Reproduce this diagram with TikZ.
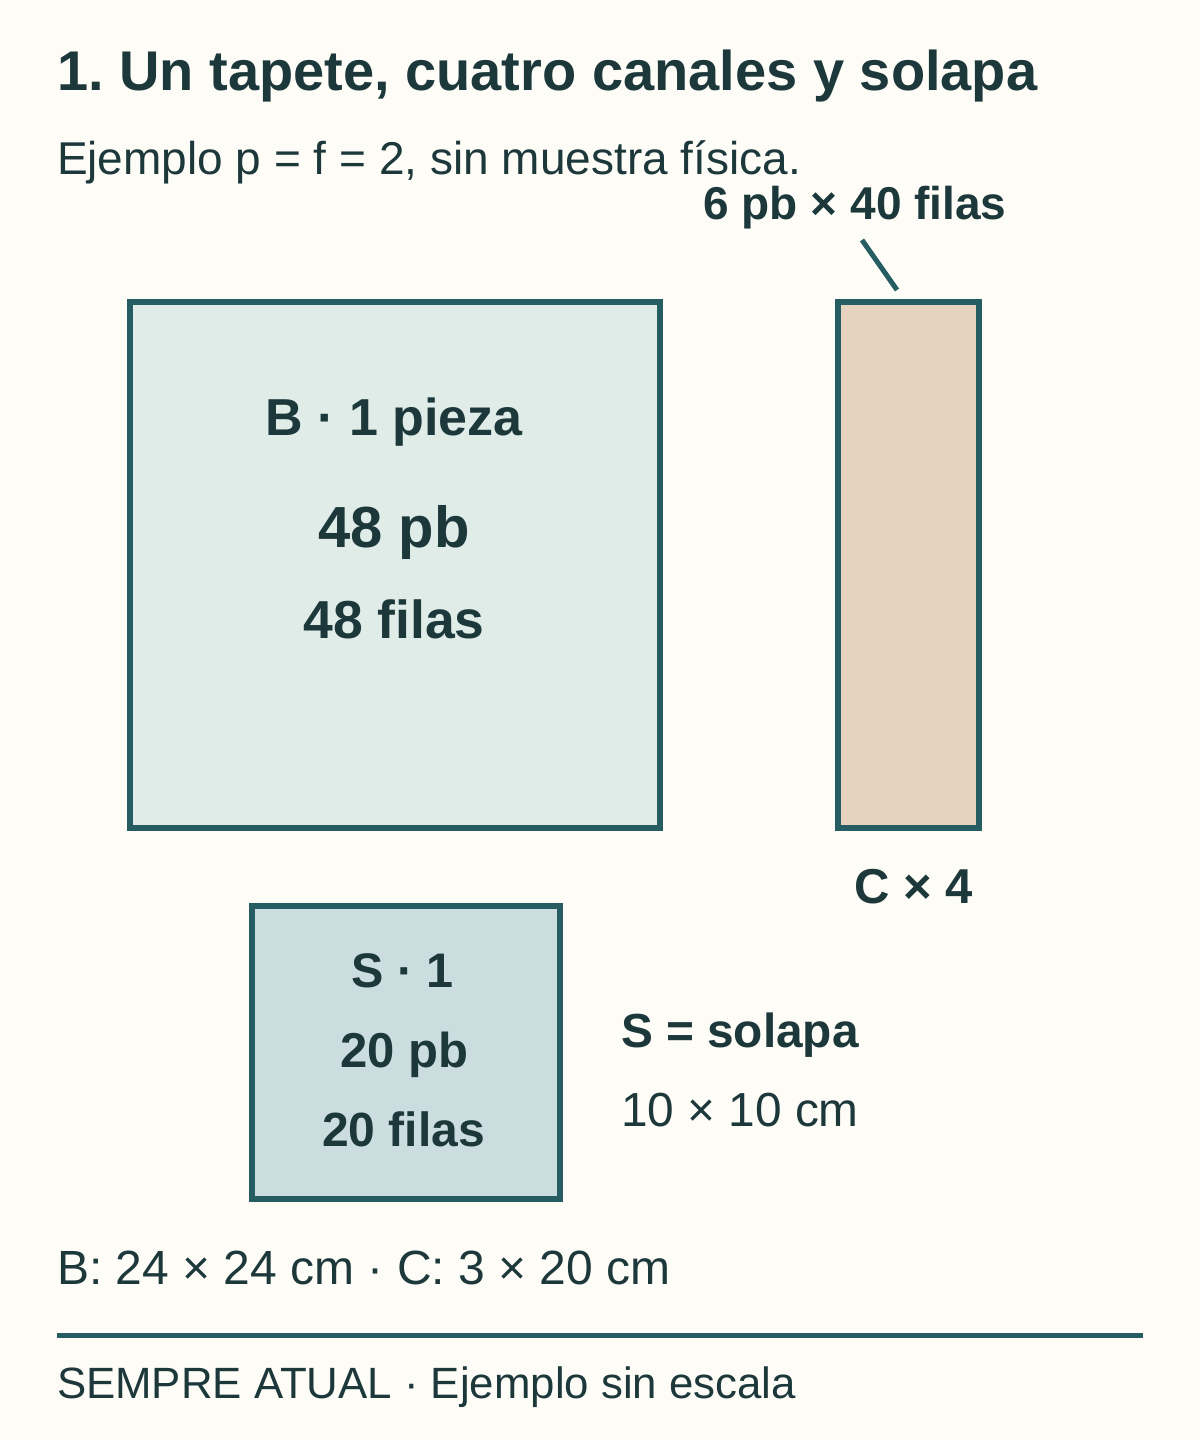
\documentclass[tikz,border=0pt]{standalone}
\usepackage{fontspec}
\setmainfont{Liberation Sans}
\frenchspacing
\definecolor{bg}{HTML}{FDFCF6}
\definecolor{ink}{HTML}{1D383B}
\definecolor{edge}{HTML}{265D63}
\definecolor{bfill}{HTML}{DFECE7}
\definecolor{cfill}{HTML}{E5D3C0}
\definecolor{sfill}{HTML}{CCDDE0}
\newcommand{\fs}[1]{\fontsize{#1}{#1}\selectfont}
\begin{document}
\begin{tikzpicture}[x=1pt,y=-1pt,
  piece/.style={draw=edge,line width=6pt,rectangle,inner sep=0pt,outer sep=0pt},
  txt/.style={text=ink,inner sep=0pt,outer sep=0pt},
  bold/.style={txt,font=\bfseries}]
\useasboundingbox[fill=bg] (0,0) rectangle (1200,1440);
% title
\node[bold,anchor=base west,font=\bfseries\fs{56}] (title) at (57,90) {1. Un tapete, cuatro canales y solapa};
\node[txt,anchor=base west,font=\fs{46}] (sub) at (57,174) {Ejemplo p = f = 2, sin muestra física.};
% pieces
\node[piece,fill=bfill,minimum width=530pt,minimum height=526pt] (B) at (395,565) {};
\node[piece,fill=cfill,minimum width=141pt,minimum height=526pt] (C) at (908.5,565) {};
\node[piece,fill=sfill,minimum width=308pt,minimum height=293pt] (S) at (406,1052.5) {};
% B texts
\node[bold,anchor=base,font=\bfseries\fs{52}] (b1) at (394,435) {B · 1 pieza};
\node[bold,anchor=base,font=\bfseries\fs{58}] (b2) at (394,547) {48 pb};
\node[bold,anchor=base,font=\bfseries\fs{53.5}] (b3) at (394,638) {48 filas};
% C label
\node[bold,anchor=base,font=\bfseries\fs{46}] (clab) at (855,219) {6 pb × 40 filas};
\coordinate (lead) at (862,240);
\coordinate (leadend) at (897,290);
\draw[edge,line width=5pt] (lead) -- (leadend);
\node[bold,anchor=base,font=\bfseries\fs{49}] (cn) at (913.5,903) {C × 4};
% S texts
\node[bold,anchor=base,font=\bfseries\fs{48.5}] (s1) at (402.5,987) {S · 1};
\node[bold,anchor=base,font=\bfseries\fs{49}] (s2) at (404,1067) {20 pb};
\node[bold,anchor=base,font=\bfseries\fs{48}] (s3) at (403.5,1146) {20 filas};
\node[bold,anchor=base west,font=\bfseries\fs{47.8}] (sdef) at (621,1047) {S = solapa};
\node[txt,anchor=base west,font=\fs{47.8}] (sdim) at (621,1126) {10 × 10 cm};
% dims
\node[txt,anchor=base west,font=\fs{48}] (dims) at (57,1284) {B: 24 × 24 cm · C: 3 × 20 cm};
% rule and footer
\coordinate (r1) at (57,1335);
\coordinate (r2) at (1143,1335);
\draw[edge,line width=5pt] (r1) -- (r2);
\node[txt,anchor=base west,font=\fs{43.8}] (foot) at (57,1398) {SEMPRE ATUAL · Ejemplo sin escala};
\end{tikzpicture}
\end{document}
